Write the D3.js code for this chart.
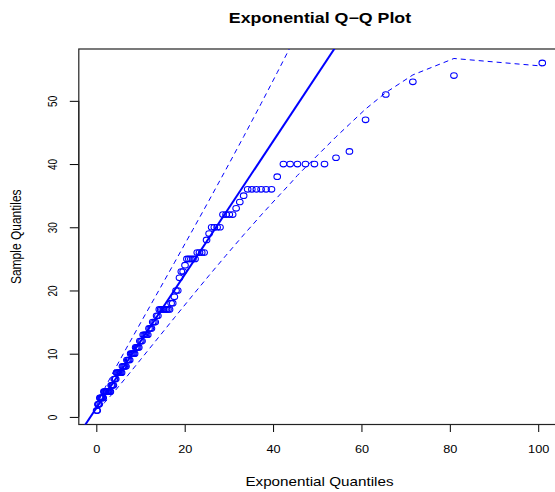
<!DOCTYPE html>
<html>
<head>
<meta charset="utf-8">
<script src="https://cdn.jsdelivr.net/npm/d3@7"></script>
<style>
  body { margin: 0; background: #fff; }
  svg { display: block; }
</style>
</head>
<body>
<svg id="chart"></svg>
<script>
// Sorted sample values (y)
const sampleQuantiles = [
  1, 1, 2, 2, 2, 3, 3, 3, 3, 3, 3,
  4, 4, 4, 4, 4, 4, 4, 4, 4, 4,
  5, 5, 5, 5, 6, 6, 6,
  7, 7, 7, 7, 7, 7, 7,
  8, 8, 8, 8, 8, 9, 9, 9, 9,
  10, 10, 10, 10, 10, 11, 11, 11, 11, 12, 12, 12,
  13, 13, 13, 13, 13, 14, 14, 14, 15, 15, 15, 16, 16,
  17, 17, 17, 17, 17, 17, 17, 17, 18, 18, 19, 20, 20,
  22, 23, 23, 24, 25, 25, 25, 25, 25, 26, 26, 26, 26,
  28, 29, 30, 30, 30, 30, 32, 32, 32, 32, 33, 34, 35,
  36, 36, 36, 36, 36, 36, 38, 40, 40, 40, 40, 40, 40,
  41, 42, 47, 51, 53, 54, 56
];

// Exponential quantiles (x), one per sample value
const expQuantiles = [
  0.07, 0.21, 0.36, 0.50, 0.65, 0.80, 0.95, 1.10, 1.25, 1.40,
  1.56, 1.71, 1.87, 2.03, 2.19, 2.35, 2.51, 2.68, 2.84, 3.01,
  3.18, 3.35, 3.52, 3.69, 3.87, 4.04, 4.22, 4.40, 4.58, 4.77,
  4.95, 5.14, 5.33, 5.52, 5.72, 5.91, 6.11, 6.31, 6.51, 6.72,
  6.92, 7.13, 7.34, 7.56, 7.77, 7.99, 8.22, 8.44, 8.67, 8.90,
  9.13, 9.37, 9.61, 9.85, 10.10, 10.35, 10.60, 10.85, 11.11, 11.38,
  11.65, 11.92, 12.19, 12.47, 12.76, 13.05, 13.34, 13.64, 13.94, 14.25,
  14.56, 14.88, 15.21, 15.54, 15.88, 16.22, 16.57, 16.93, 17.29, 17.66,
  18.04, 18.43, 18.82, 19.23, 19.64, 20.07, 20.50, 20.94, 21.40, 21.86,
  22.34, 22.84, 23.34, 23.86, 24.40, 24.95, 25.52, 26.10, 26.71, 27.34,
  27.99, 28.66, 29.36, 30.09, 30.85, 31.64, 32.47, 33.34, 34.25, 35.20,
  36.21, 37.29, 38.42, 39.64, 40.94, 42.34, 43.86, 45.51, 47.33, 49.36,
  51.64, 54.24, 57.28, 60.93, 65.51, 71.63, 80.93, 100.92
];

// Confidence envelope (dashed)
const envelopeX = [0.07, 0.65, 1.87, 4.04, 6.72, 10.10, 14.25, 17.66, 21.86, 25.52, 29.36, 33.34,
  37.29, 40.94, 43.86, 45.51, 49.36, 54.24, 57.28, 60.93, 65.51, 71.63, 80.93, 100.92];
const upperEnvelope = [1.69, 2.73, 4.49, 7.35, 10.76, 14.98, 20.13, 24.38, 29.64, 34.26, 39.18, 44.34,
  49.56, 54.47, 58.47, 60.77];
const lowerEnvelope = [1.26, 1.44, 2.26, 3.97, 6.22, 9.14, 12.73, 15.68, 19.28, 22.38, 25.56, 28.80,
  31.92, 34.71, 36.9, 38.2, 40.9, 44.3, 46.3, 48.7, 51.3, 54.1, 56.7, 55.5];

// Reference line
const lineIntercept = 1.4;
const lineSlope = 1.055;

const xTicks = [0, 20, 40, 60, 80, 100];
const yTicks = [0, 10, 20, 30, 40, 50];

const titleText = 'Exponential Q\u2212Q Plot';
const xLabel = 'Exponential Quantiles';
const yLabel = 'Sample Quantiles';

// ---- layout ----
const config = {
  width: 555,
  height: 492,
  margin: { top: 49, left: 78.8 },
  plotWidth: 481.3,
  plotHeight: 375.5
};
const fontFamily = '"Liberation Sans", Arial, Helvetica, sans-serif';
const stretch = 1.27; // glyphs in the reference are widened horizontally
const blue = '#0000ff';

const svg = d3.select('#chart')
  .attr('width', config.width)
  .attr('height', config.height);

// R pads the data range by 4% on each side
function padded(ext) {
  const p = (ext[1] - ext[0]) * 0.04;
  return [ext[0] - p, ext[1] + p];
}

const xScale = d3.scaleLinear()
  .domain(padded(d3.extent(expQuantiles)))
  .range([0, config.plotWidth]);

const yScale = d3.scaleLinear()
  .domain(padded(d3.extent(sampleQuantiles)))
  .range([config.plotHeight, 0]);

const chart = svg.append('g')
  .attr('transform', `translate(${config.margin.left},${config.margin.top})`);

chart.append('clipPath')
  .attr('id', 'plot-clip')
  .append('rect')
  .attr('width', config.plotWidth)
  .attr('height', config.plotHeight);

// x axis
const xAxis = d3.axisBottom(xScale)
  .tickValues(xTicks)
  .tickSize(7.5)
  .tickSizeOuter(0)
  .tickFormat(d3.format('d'));

const xAxisG = chart.append('g')
  .attr('transform', `translate(0,${config.plotHeight})`)
  .attr('font-family', fontFamily)
  .attr('font-size', 12)
  .call(xAxis);

xAxisG.select('.domain').remove();
xAxisG.selectAll('line').attr('stroke', '#000');
xAxisG.selectAll('text')
  .attr('y', null)
  .attr('dy', null)
  .attr('fill', '#000')
  .attr('transform', `translate(0,28.5) scale(${stretch},1)`);

xAxisG.append('line')
  .attr('x1', xScale(xTicks[0]))
  .attr('x2', xScale(xTicks[xTicks.length - 1]))
  .attr('stroke', '#000');

// y axis
const yAxis = d3.axisLeft(yScale)
  .tickValues(yTicks)
  .tickSize(9)
  .tickSizeOuter(0)
  .tickFormat(d3.format('d'));

const yAxisG = chart.append('g')
  .attr('font-family', fontFamily)
  .attr('font-size', 12)
  .call(yAxis);

yAxisG.select('.domain').remove();
yAxisG.selectAll('line').attr('stroke', '#000');
yAxisG.selectAll('text')
  .attr('x', null)
  .attr('dy', null)
  .attr('fill', '#000')
  .attr('text-anchor', 'middle')
  .attr('transform', `translate(${56.5 - config.margin.left},0) scale(${stretch},1) rotate(-90)`);

yAxisG.append('line')
  .attr('y1', yScale(yTicks[0]))
  .attr('y2', yScale(yTicks[yTicks.length - 1]))
  .attr('stroke', '#000');

// plot box
chart.append('rect')
  .attr('width', config.plotWidth)
  .attr('height', config.plotHeight)
  .attr('fill', 'none')
  .attr('stroke', '#222')
  .attr('stroke-width', 1.2);

const plot = chart.append('g').attr('clip-path', 'url(#plot-clip)');

// points
plot.selectAll('.qq-point')
  .data(d3.zip(expQuantiles, sampleQuantiles))
  .join('ellipse')
    .attr('class', 'qq-point')
    .attr('cx', d => xScale(d[0]))
    .attr('cy', d => yScale(d[1]))
    .attr('rx', 3.3)
    .attr('ry', 2.8)
    .attr('fill', 'none')
    .attr('stroke', blue)
    .attr('stroke-width', 1.1);

// reference line
const xDom = xScale.domain();
plot.append('line')
  .attr('x1', xScale(xDom[0]))
  .attr('y1', yScale(lineIntercept + lineSlope * xDom[0]))
  .attr('x2', xScale(xDom[1]))
  .attr('y2', yScale(lineIntercept + lineSlope * xDom[1]))
  .attr('stroke', blue)
  .attr('stroke-width', 2);

// envelope
const envLine = d3.line()
  .x(d => xScale(d[0]))
  .y(d => yScale(d[1]));

[upperEnvelope, lowerEnvelope].forEach(env => {
  plot.append('path')
    .datum(d3.zip(envelopeX.slice(0, env.length), env))
    .attr('d', envLine)
    .attr('fill', 'none')
    .attr('stroke', blue)
    .attr('stroke-width', 1)
    .attr('stroke-dasharray', '5,4');
});

// title and axis labels
svg.append('g')
  .attr('transform', `translate(320,23.3) scale(${stretch},1)`)
  .append('text')
    .attr('text-anchor', 'middle')
    .attr('font-family', fontFamily)
    .attr('font-size', 14)
    .attr('font-weight', 'bold')
    .text(titleText);

svg.append('g')
  .attr('transform', `translate(${config.margin.left + config.plotWidth / 2},486) scale(${stretch},1)`)
  .append('text')
    .attr('text-anchor', 'middle')
    .attr('font-family', fontFamily)
    .attr('font-size', 12)
    .text(xLabel);

svg.append('g')
  .attr('transform', `translate(20.5,${config.margin.top + config.plotHeight / 2}) scale(${stretch},1) rotate(-90)`)
  .append('text')
    .attr('text-anchor', 'middle')
    .attr('font-family', fontFamily)
    .attr('font-size', 12)
    .text(yLabel);
</script>
</body>
</html>
